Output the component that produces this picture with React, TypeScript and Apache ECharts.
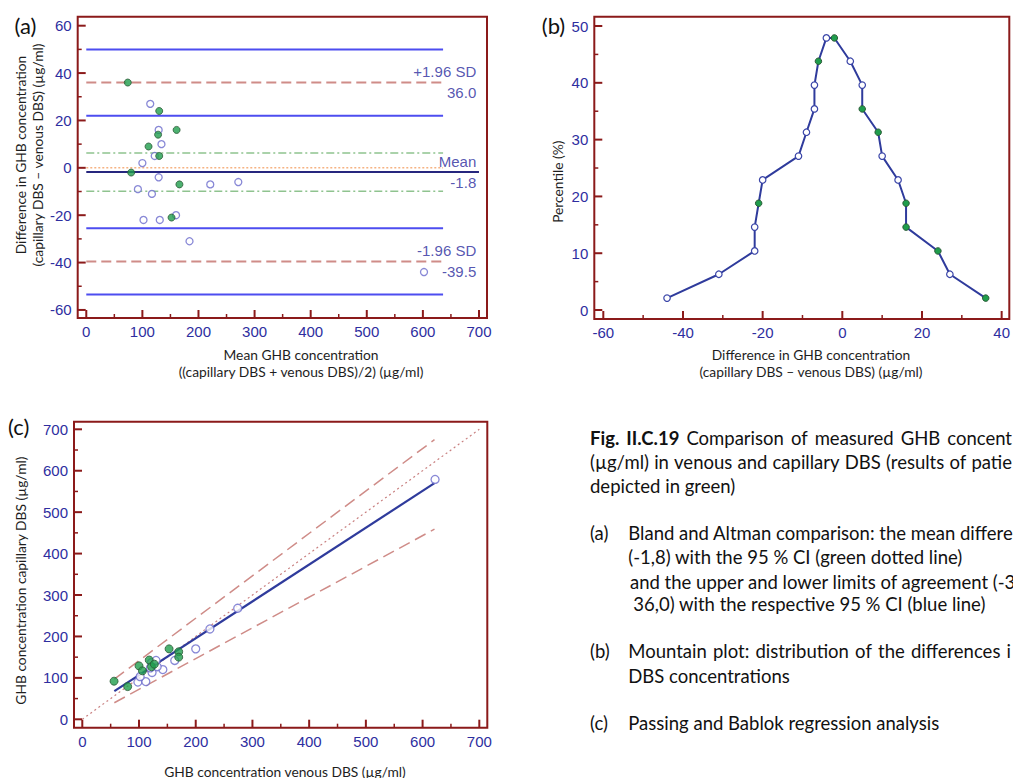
import React, { useEffect, useRef } from "react";
import * as echarts from "echarts";

// ---------- (a) Bland–Altman ----------
const aGreenMean = [74, 130, 161, 128, 111, 130, 80, 166, 152];
const aGreenDiff = [36, 24, 16, 14, 9, 5, -2, -7, -21];
const aOpenMean = [114, 129, 134, 122, 100, 129, 92, 117, 221, 271, 160, 102, 131, 184, 602];
const aOpenDiff = [27, 16, 10, 5, 2, -4, -9, -11, -7, -6, -20, -22, -22, -31, -44];
const aMeanDiff = -1.8;
const aUpperLoA = 36.0;
const aLowerLoA = -39.5;
const aMeanCI = [6.3, -9.9];
const aLoACI = [50, 22, -25.5, -53.5];
const aLineRange = [0, 636];
const aMeanLineRange = [0, 700];
const aLabelX = 696;

// ---------- (b) Mountain plot ----------
const bDiff = [-44, -31, -22, -22, -21, -20, -11, -9, -7, -7, -6, -4, -2, 2, 5, 5, 9, 10, 14, 16, 16, 24, 27, 36];
const bPercentile = [2.1, 6.3, 10.4, 14.6, 18.8, 22.9, 27.1, 31.3, 35.4, 39.6, 43.8, 47.9, 47.9, 43.8, 39.6, 35.4, 31.3, 27.1, 22.9, 18.8, 14.6, 10.4, 6.3, 2.1];
const bGreen = [0, 0, 0, 0, 1, 0, 0, 0, 0, 0, 1, 0, 1, 0, 0, 1, 1, 0, 0, 1, 1, 1, 0, 1];

// ---------- (c) Passing–Bablok ----------
const cGreenVenous = [56, 80, 100, 106, 118, 122, 127, 153, 170, 170];
const cGreenCapillary = [92, 79, 129, 117, 143, 127, 133, 170, 163, 150];
const cOpenVenous = [98, 112, 102, 123, 142, 132, 122, 130, 163, 200, 225, 274, 622, 120];
const cOpenCapillary = [90, 91, 103, 113, 120, 127, 137, 142, 142, 170, 218, 268, 579, 124];
const cLineX = [56.5, 621];
const cRegressionY = [68, 570];
const cUpperY = [97, 675];
const cLowerY = [40, 459];
const cIdentity = [0, 700];

// ---------- axes: frame extent [min, max] and tick labels ----------
const aXExtent = [-15.3, 714.3];
const aYExtent = [-63.4, 63.8];
const aXTicks = [0, 100, 200, 300, 400, 500, 600, 700];
const aYTicks = [-60, -40, -20, 0, 20, 40, 60];
const bXExtent = [-62.26, 41.83];
const bYExtent = [-1.58, 51.64];
const bXTicks = [-60, -40, -20, 0, 20, 40];
const bYTicks = [0, 10, 20, 30, 40, 50];
const cXExtent = [-14.63, 714.1];
const cYExtent = [-20.28, 718.34];
const cXTicks = [0, 100, 200, 300, 400, 500, 600, 700];
const cYTicks = [0, 100, 200, 300, 400, 500, 600, 700];

// ---------- styles ----------
const FRAME = "#8b1a1a";
const TICK_LABEL = "#2e2ea0";
const TITLE = "#1e1e1e";
const GREEN = "#1f9d4c";
const GREEN_BORDER = "#2a5a36";
const OPEN_BORDER = "#6a6acc";
const NAVY = "#2f3b9c";
const ROSE = "#cf8c88";
const TXT_FONT = "Lato";
const TXT_SIZE = 18.5;

const GRID_A = { left: 77.7, top: 16.7, width: 409.3, height: 301.3 };
const GRID_B = { left: 594.3, top: 16.7, width: 415, height: 302.3 };
const GRID_C = { left: 74, top: 421.7, width: 413.3, height: 306 };

const axis = (gridIndex: number, ext: number[], ticks: number[]) => ({
  type: "value",
  gridIndex,
  min: ext[0],
  max: ext[1],
  axisLine: { show: false, onZero: false },
  axisTick: { show: false },
  minorTick: { show: false },
  axisLabel: {
    customValues: ticks,
    color: TICK_LABEL,
    fontFamily: "Liberation Sans, Arial",
    fontSize: 15,
    margin: 6,
  },
  splitLine: { show: false },
});

const seg = (idx: number, xs: number[], ys: number[], color: string, width: number, type: any, z = 2) => ({
  type: "line",
  xAxisIndex: idx,
  yAxisIndex: idx,
  data: xs.map((x, i) => [x, ys[i]]),
  symbol: "none",
  silent: true,
  z,
  lineStyle: { color, width, type },
});

const hLine = (idx: number, y: number, range: number[], color: string, width: number, type: any, z = 2) =>
  seg(idx, range, [y, y], color, width, type, z);

// inward tick marks from the frame (major at tick values, minor halfway), as tiny line series
const withMinor = (ticks: number[]) => {
  const r: [number, boolean][] = [];
  ticks.forEach((t, i) => {
    r.push([t, true]);
    if (i < ticks.length - 1) r.push([(t + ticks[i + 1]) / 2, false]);
  });
  return r;
};

const tickSeries = () => {
  const panels = [
    { g: 0, grid: GRID_A, xe: aXExtent, ye: aYExtent, xt: aXTicks, yt: aYTicks },
    { g: 1, grid: GRID_B, xe: bXExtent, ye: bYExtent, xt: bXTicks, yt: bYTicks },
    { g: 2, grid: GRID_C, xe: cXExtent, ye: cYExtent, xt: cXTicks, yt: cYTicks },
  ];
  const out: any[] = [];
  panels.forEach((p) => {
    const unitsPerPxX = (p.xe[1] - p.xe[0]) / p.grid.width;
    const unitsPerPxY = (p.ye[1] - p.ye[0]) / p.grid.height;
    withMinor(p.xt).forEach(([v, major]) => {
      const len = (major ? 8 : 4) * unitsPerPxY;
      out.push({ ...seg(p.g, [v, v], [p.ye[0], p.ye[0] + len], FRAME, major ? 2 : 1.5, "solid", 101), clip: false });
    });
    withMinor(p.yt).forEach(([v, major]) => {
      const len = (major ? 8 : 4) * unitsPerPxX;
      out.push({ ...seg(p.g, [p.xe[0], p.xe[0] + len], [v, v], FRAME, major ? 2 : 1.5, "solid", 101), clip: false });
    });
  });
  return out;
};

const scatter = (idx: number, xs: number[], ys: number[], filled: boolean, size = 7) => ({
  type: "scatter",
  xAxisIndex: idx,
  yAxisIndex: idx,
  data: xs.map((x, i) => [x, ys[i]]),
  symbol: "circle",
  symbolSize: size,
  z: 5,
  itemStyle: filled
    ? { color: GREEN, borderColor: GREEN_BORDER, borderWidth: 1 }
    : { color: "#ffffff", borderColor: OPEN_BORDER, borderWidth: 1.3 },
});

const lineLabel = (y: number, text: string, above: boolean) => ({
  value: [aLabelX, y],
  label: { formatter: text, offset: [0, above ? -11 : 10] },
});

const txt = (text: string, x: number, y: number, opts: any = {}) => ({
  type: "text",
  x,
  y,
  silent: true,
  style: {
    text,
    fill: "#111111",
    fontFamily: TXT_FONT,
    fontSize: TXT_SIZE,
    verticalAlign: "middle",
    align: "left",
    ...opts,
  },
});

let measureCtx: CanvasRenderingContext2D | null = null;
const measure = (text: string, bold: boolean) => {
  if (!measureCtx) measureCtx = document.createElement("canvas").getContext("2d");
  if (!measureCtx) return text.length * 8;
  measureCtx.font = `${bold ? "bold " : ""}${TXT_SIZE}px ${TXT_FONT}`;
  return measureCtx.measureText(text).width;
};

// justified line: words spread from x0 to x1
const justified = (list: string[], x0: number, x1: number, y: number, bold = 0) => {
  const widths = list.map((w, i) => measure(w, i < bold));
  const total = widths.reduce((s, w) => s + w, 0);
  const gap = (x1 - x0 - total) / (list.length - 1);
  let x = x0;
  return list.map((w, i) => {
    const el = txt(w, x, y, i < bold ? { fontWeight: "bold" } : {});
    x += widths[i] + gap;
    return el;
  });
};

const axisTitle = (text: string, x: number, y: number, rotate = false) => ({
  type: "text",
  x,
  y,
  rotation: rotate ? Math.PI / 2 : 0,
  silent: true,
  style: {
    text,
    fill: TITLE,
    fontFamily: TXT_FONT,
    fontSize: 13.8,
    lineHeight: 17,
    align: "center",
    verticalAlign: "middle",
  },
});

const frame = (x: number, y: number, w: number, h: number) => ({
  type: "rect",
  shape: { x, y, width: w, height: h },
  silent: true,
  z: 100,
  style: { fill: "none", stroke: FRAME, lineWidth: 2 },
});

const buildOption = (): any => ({
  animation: false,
  backgroundColor: "#ffffff",
  grid: [GRID_A, GRID_B, GRID_C],
  xAxis: [axis(0, aXExtent, aXTicks), axis(1, bXExtent, bXTicks), axis(2, cXExtent, cXTicks)],
  yAxis: [axis(0, aYExtent, aYTicks), axis(1, bYExtent, bYTicks), axis(2, cYExtent, cYTicks)],
  series: [
    ...tickSeries(),
    // (a) reference lines
    ...aLoACI.map((y) => hLine(0, y, aLineRange, "#4d4df0", 2, "solid")),
    hLine(0, aUpperLoA, aLineRange, ROSE, 2, [10, 5]),
    hLine(0, aLowerLoA, aLineRange, ROSE, 2, [10, 5]),
    ...aMeanCI.map((y) => hLine(0, y, aLineRange, "#8fc38f", 1.5, [8, 3, 2, 3])),
    hLine(0, 0, aLineRange, "#f6b383", 1.5, [2, 2]),
    hLine(0, aMeanDiff, aMeanLineRange, "#26267e", 2, "solid", 3),
    scatter(0, aOpenMean, aOpenDiff, false),
    scatter(0, aGreenMean, aGreenDiff, true),
    {
      type: "scatter",
      xAxisIndex: 0,
      yAxisIndex: 0,
      symbol: "circle",
      symbolSize: 1,
      silent: true,
      z: 6,
      itemStyle: { color: "rgba(0,0,0,0)" },
      label: {
        show: true,
        position: "left",
        distance: 0,
        color: "#2a2a9c",
        fontFamily: "Liberation Sans, Arial",
        fontSize: 15,
      },
      data: [
        lineLabel(aUpperLoA, "+1.96 SD", true),
        lineLabel(aUpperLoA, aUpperLoA.toFixed(1), false),
        lineLabel(aMeanDiff, "Mean", true),
        lineLabel(aMeanDiff, aMeanDiff.toFixed(1), false),
        lineLabel(aLowerLoA, "-1.96 SD", true),
        lineLabel(aLowerLoA, aLowerLoA.toFixed(1), false),
      ],
    },
    // (b) mountain plot
    {
      type: "line",
      xAxisIndex: 1,
      yAxisIndex: 1,
      symbol: "circle",
      symbolSize: 6.5,
      showAllSymbol: true,
      z: 5,
      lineStyle: { color: NAVY, width: 2 },
      itemStyle: { color: "#ffffff", borderColor: "#3a45a8", borderWidth: 1.2 },
      data: bDiff.map((d, i) => ({
        value: [d, bPercentile[i]],
        itemStyle: bGreen[i] ? { color: GREEN, borderColor: GREEN_BORDER, borderWidth: 1 } : undefined,
      })),
    },
    // (c) Passing–Bablok
    seg(2, cIdentity, cIdentity, "#c98080", 1.2, [2, 3]),
    seg(2, cLineX, cUpperY, ROSE, 1.5, [12, 6]),
    seg(2, cLineX, cLowerY, ROSE, 1.5, [12, 6]),
    seg(2, cLineX, cRegressionY, NAVY, 2.2, "solid", 4),
    scatter(2, cOpenVenous, cOpenCapillary, false, 8),
    scatter(2, cGreenVenous, cGreenCapillary, true, 8),
  ],
  graphic: [
    frame(GRID_A.left, GRID_A.top, GRID_A.width, GRID_A.height),
    frame(GRID_B.left, GRID_B.top, GRID_B.width, GRID_B.height),
    frame(GRID_C.left, GRID_C.top, GRID_C.width, GRID_C.height),
    txt("(a)", 25.5, 25, { align: "center", fontSize: 22 }),
    txt("(b)", 553.5, 25, { align: "center", fontSize: 22 }),
    txt("(c)", 18.7, 426.7, { align: "center", fontSize: 22 }),
    axisTitle("Difference in GHB concentration\n(capillary DBS \u2013 venous DBS) (\u00b5g/ml)", 28.5, 155, true),
    axisTitle("Mean GHB concentration\n((capillary DBS + venous DBS)/2) (\u00b5g/ml)", 301, 362.5),
    axisTitle("Percentile (%)", 557.3, 181.7, true),
    axisTitle("Difference in GHB concentration\n(capillary DBS \u2013 venous DBS) (\u00b5g/ml)", 811, 363),
    axisTitle("GHB concentration capillary DBS (\u00b5g/ml)", 20.7, 580.6, true),
    axisTitle("GHB concentration venous DBS (\u00b5g/ml)", 285, 771),
    ...justified(["Fig.", "II.C.19", "Comparison", "of", "measured", "GHB", "concent"], 590, 1012, 438, 2),
    ...justified(["(\u00b5g/ml)", "in", "venous", "and", "capillary", "DBS", "(results", "of", "patie"], 590, 1012, 461.7),
    txt("depicted in green)", 590, 485.7),
    txt("(a)", 590, 533),
    txt("Bland and Altman comparison: the mean differe", 628.3, 533),
    txt("(-1,8) with the 95 % CI (green dotted line)", 628.3, 556.7),
    txt("and the upper and lower limits of agreement (-3", 630, 581.7),
    txt("36,0) with the respective 95 % CI (blue line)", 633.3, 604.3),
    txt("(b)", 590, 651),
    ...justified(["Mountain", "plot:", "distribution", "of", "the", "differences", "i"], 628.3, 1011, 651),
    txt("DBS concentrations", 628.3, 676),
    txt("(c)", 590, 723),
    txt("Passing and Bablok regression analysis", 628.3, 723),
  ],
});

export default function App() {
  const ref = useRef<HTMLDivElement>(null);
  useEffect(() => {
    const chart = echarts.init(ref.current as HTMLDivElement, null, { renderer: "svg" });
    chart.setOption(buildOption());
    return () => chart.dispose();
  }, []);
  return (
    <div
      ref={ref}
      style={{ position: "absolute", left: 0, top: 0, width: 1013, height: 778, overflow: "hidden", background: "#fff" }}
    />
  );
}
